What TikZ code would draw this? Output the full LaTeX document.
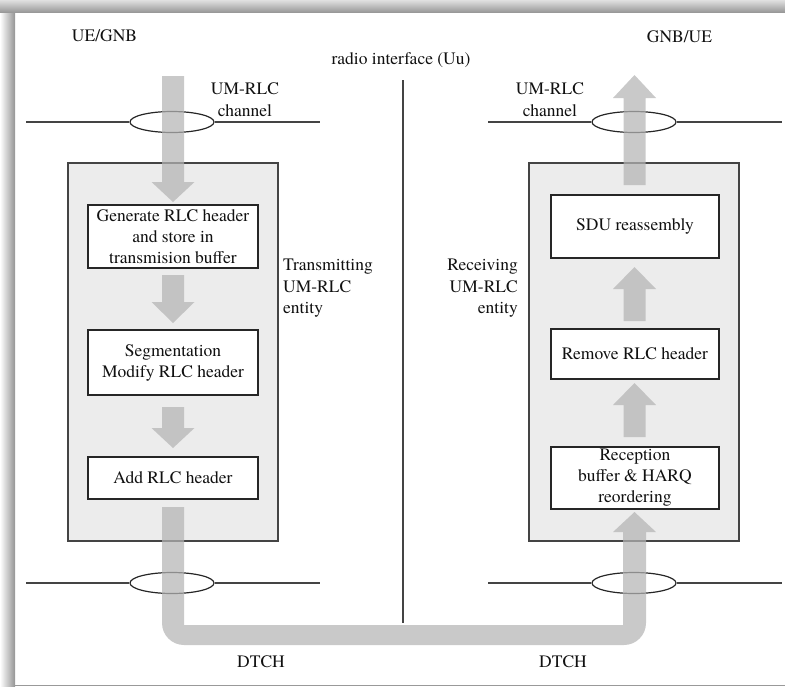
\documentclass[tikz,border=0pt]{standalone}
\usepackage{fontspec}
\setmainfont{Liberation Serif}
\newfontfamily\tnr{texgyretermes-regular.otf}
\usetikzlibrary{shapes.geometric}
\definecolor{arrowgray}{HTML}{B4B4B4}
\definecolor{entityfill}{HTML}{ECECEC}
\definecolor{linegray}{HTML}{444444}
\definecolor{textgray}{HTML}{111111}
\newcommand{\varrow}[4]{%
  \fill[arrowfill] (#1-11,#2) -- (#1+11,#2) -- (#1+11,#3) -- (#1+21.5,#3) -- (#1,#4) -- (#1-21.5,#3) -- (#1-11,#3) -- cycle;}
\begin{document}
\begin{tikzpicture}[x=1pt,y=-1pt,
  every node/.style={text=textgray},
  lbl/.style={font=\tnr\fontsize{17.5}{21.5}\selectfont, inner sep=0pt},
  entity/.style={draw=linegray, line width=1.7pt, fill=entityfill},
  stepbox/.style={draw=black!85, line width=1.4pt, fill=white, align=center,
    font=\tnr\fontsize{17.5}{21}\selectfont, inner sep=0pt, minimum width=170},
  chan/.style={draw=linegray, line width=1.3pt},
  chanell/.style={ellipse, draw=black!85, line width=1.2pt, minimum width=84, minimum height=21, inner sep=0pt},
  arrowfill/.style={fill=arrowgray, fill opacity=0.72}]
\useasboundingbox (0,0) rectangle (785,686);
% frame shadow
\shade[left color=white, right color=black!42] (0,12) rectangle (15,686);
\shade[top color=black!12, bottom color=black!40] (0,0) rectangle (785,12);
\draw[black!40, line width=1.5pt] (15,685.25) -- (785,685.25);

% titles
\node[lbl] (ue) at (104.5,36) {UE/GNB};
\node[lbl] (gnb) at (679.5,37) {GNB/UE};
\node[lbl] (uu) at (401,60) {radio interface (Uu)};

% radio interface line
\coordinate (v1) at (403,80);
\coordinate (v2) at (403,623);
\draw[linegray, line width=1.3pt] (v1) -- (v2);

% entity boxes
\node[entity, minimum width=210, minimum height=378, inner sep=0pt] (tx) at (173,352) {};
\node[entity, minimum width=210, minimum height=378, inner sep=0pt] (rx) at (634,352) {};

% step boxes left
\node[stepbox, minimum height=63] (b1) at (173,236.5) {Generate RLC header\\and store in\\transmision buffer};
\node[stepbox, minimum height=65] (b2) at (173,362.5) {Segmentation\\Modify RLC header};
\node[stepbox, minimum height=42] (b3) at (173,478) {Add RLC header};
% step boxes right
\node[stepbox, minimum width=168, minimum height=63] (r1) at (635,226.5) {SDU reassembly};
\node[stepbox, minimum width=168, minimum height=50] (r2) at (635,354) {Remove RLC header};
\node[stepbox, minimum width=168, minimum height=62] (r3) at (635,478) {Reception\\buffer \& HARQ\\reordering};

% entity labels
\node[lbl, align=left, anchor=west] (txl) at (283,288.5) {Transmitting\\UM-RLC\\entity};
\node[lbl, align=right, anchor=east] (rxl) at (518,288.5) {Receiving\\UM-RLC\\entity};

% channels
\node[chanell] (e1) at (172,122) {};
\node[chanell] (e2) at (634,122) {};
\node[chanell] (e3) at (172,583) {};
\node[chanell] (e4) at (634,583) {};
\coordinate (c1a) at (26,122);  \coordinate (c1b) at (320,122);
\coordinate (c2a) at (488,122); \coordinate (c2b) at (782,122);
\coordinate (c3a) at (26,583);  \coordinate (c3b) at (320,583);
\coordinate (c4a) at (488,583); \coordinate (c4b) at (782,583);
\draw[chan] (c1a) -- (e1.west) (e1.east) -- (c1b);
\draw[chan] (c2a) -- (e2.west) (e2.east) -- (c2b);
\draw[chan] (c3a) -- (e3.west) (e3.east) -- (c3b);
\draw[chan] (c4a) -- (e4.west) (e4.east) -- (c4b);

\node[lbl, align=center] (ch1) at (245,99.5) {UM-RLC\\channel};
\node[lbl, align=center] (ch2) at (550,99.5) {UM-RLC\\channel};

% block arrows
\varrow{173}{76}{182}{202}
\varrow{173}{275}{302}{323}
\varrow{173}{407}{428}{448}
\varrow{634.5}{185}{98}{75}
\varrow{634.5}{321}{289}{267}
\varrow{634.5}{437}{405}{383}
% DTCH path
\fill[arrowfill] (162,507) -- (162,623) arc[start angle=180, end angle=270, radius=22pt]
  -- (624,645) arc[start angle=270, end angle=360, radius=22pt]
  -- (646,532) -- (656,532) -- (634.5,512) -- (613,532) -- (623,532) -- (623,625)
  -- (184,625) -- (184,507) -- cycle;

\node[lbl] (d1) at (261,662) {DTCH};
\node[lbl] (d2) at (563,662) {DTCH};
\end{tikzpicture}
\end{document}
